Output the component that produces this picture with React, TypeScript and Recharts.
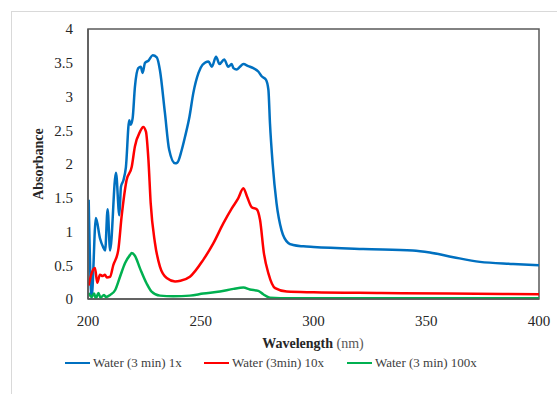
import {
  Legend,
  Line,
  LineChart,
  ReferenceArea,
  XAxis,
  YAxis,
} from "recharts";

// [wavelength nm, absorbance]
const water1x: [number, number][] = [
  [200.3, 1.47], [201.6, 0.02], [203.5, 1.2], [205.3, 0.9], [206.7, 0.77],
  [207.6, 0.72], [208.7, 1.33], [209.8, 0.72], [212.4, 1.87], [213.9, 1.24],
  [214.6, 1.66], [215.7, 1.76], [216.8, 1.95], [218.3, 2.65], [218.9, 2.58],
  [219.8, 2.68], [220.8, 3.14], [222.3, 3.42], [223.4, 3.44], [224.2, 3.35],
  [225.3, 3.5], [226.8, 3.53], [228.7, 3.61], [230.5, 3.58], [231.9, 3.39],
  [234.1, 2.76], [236, 2.21], [238.6, 2.01], [239.6, 2.02], [241.5, 2.2],
  [243, 2.4], [245, 2.7], [246.7, 3.05], [249, 3.35], [250.8, 3.47],
  [253.4, 3.52], [254.9, 3.44], [256.8, 3.59], [258.3, 3.48], [260.4, 3.55],
  [262.2, 3.44], [263.7, 3.48], [264.5, 3.42], [265.9, 3.4], [267.4, 3.44],
  [268.9, 3.48], [271.1, 3.45], [273.3, 3.42], [275.5, 3.37], [277, 3.3],
  [278.9, 3.25], [280, 3.1], [280.7, 2.6], [281.9, 2.0], [283.6, 1.42],
  [285.8, 1.02], [288.8, 0.83], [291, 0.8], [295.5, 0.78], [300, 0.77],
  [322, 0.74], [344, 0.72], [351.6, 0.69], [362, 0.62], [373.8, 0.55],
  [388.5, 0.52], [400, 0.5],
];

const water10x: [number, number][] = [
  [200.3, 0.2], [201.6, 0.38], [203.1, 0.46], [204.1, 0.24], [205.3, 0.36],
  [206.5, 0.34], [207.5, 0.36], [208.3, 0.32], [209.8, 0.33], [211.2, 0.5],
  [213.4, 0.72], [214.9, 1.22], [217.1, 1.76], [219.4, 1.96], [220.8, 2.26],
  [223.1, 2.48], [224.5, 2.55], [225.7, 2.48], [226.8, 2.06], [227.8, 1.42],
  [229.7, 0.83], [231.9, 0.48], [234.9, 0.31], [238.6, 0.26], [241, 0.27],
  [245.2, 0.33], [251.1, 0.58], [255.5, 0.82], [260, 1.12], [263.7, 1.34],
  [266.6, 1.49], [268.9, 1.64], [270.6, 1.51], [272.6, 1.36], [274.8, 1.33],
  [276.3, 1.17], [278, 0.68], [280, 0.38], [283, 0.16], [288.1, 0.11],
  [300, 0.1], [330, 0.09], [360, 0.08], [400, 0.07],
];

const water100x: [number, number][] = [
  [200.3, 0.09], [201.6, 0.03], [202.7, 0.08], [203.5, 0.01], [204.6, 0.09],
  [205.6, 0.02], [207.1, 0.06], [208, 0.03], [209.8, 0.06], [212, 0.13],
  [214.2, 0.33], [216.4, 0.53], [218.6, 0.65], [219.4, 0.68], [220.8, 0.64],
  [223.1, 0.45], [226, 0.23], [228.2, 0.11], [231.9, 0.05], [237.8, 0.04],
  [245.2, 0.05], [251.1, 0.08], [258.5, 0.11], [264.5, 0.15], [268.9, 0.17],
  [271.8, 0.14], [275.5, 0.12], [277.7, 0.07], [280.7, 0.02], [290, 0.01],
  [400, 0.01],
];

const xTicks = [200, 250, 300, 350, 400];
const yTicks = [0, 0.5, 1, 1.5, 2, 2.5, 3, 3.5, 4];

const series = [
  { name: "Water (3 min) 1x", color: "#0070C0", points: water1x },
  { name: "Water (3min) 10x", color: "#FF0000", points: water10x },
  { name: "Water (3 min) 100x", color: "#00B050", points: water100x },
];

const FONT = '"Liberation Serif", "Times New Roman", serif';
const legendLeft = [65, 204, 347];

function LegendBox() {
  return (
    <div style={{ position: "relative", height: 20, fontFamily: FONT, fontSize: 13, color: "#404040" }}>
      {series.map((s, i) => (
        <div
          key={s.name}
          style={{ position: "absolute", left: legendLeft[i], top: 0, display: "flex", alignItems: "center", whiteSpace: "nowrap" }}
        >
          <span style={{ display: "inline-block", width: 25, height: 2.5, background: s.color, marginRight: 3 }} />
          <span>{s.name}</span>
        </div>
      ))}
    </div>
  );
}

export default function App() {
  return (
    <div style={{ position: "absolute", left: 0, top: 0, width: 557, height: 394, overflow: "hidden", background: "#fff" }}>
      <div style={{ position: "absolute", left: 11, top: 11, width: 600, height: 420, border: "1px solid #d9d9d9" }} />
      <div style={{ position: "absolute", left: 0, top: 0 }}>
        <LineChart width={557} height={394} margin={{ top: 29, right: 18, left: 28, bottom: 45 }}>
          <XAxis
            type="number"
            dataKey="x"
            domain={[200, 400]}
            ticks={xTicks}
            allowDataOverflow
            axisLine={{ stroke: "#595959", strokeWidth: 1.5 }}
            tickLine={false}
            tickSize={0}
            tickMargin={16}
            height={30}
            tick={{ fontFamily: FONT, fontSize: 15, fill: "#262626" }}
            label={{
              content: () => (
                <text x={313} y={348} textAnchor="middle" fontFamily={FONT} fontSize={14} fill="#262626">
                  <tspan fontWeight="bold">Wavelength</tspan>
                  <tspan fill="#595959"> (nm)</tspan>
                </text>
              ),
            }}
          />
          <YAxis
            type="number"
            dataKey="y"
            domain={[0, 4]}
            ticks={yTicks}
            allowDataOverflow
            width={60}
            axisLine={{ stroke: "#595959", strokeWidth: 1.5 }}
            tickLine={false}
            tickSize={0}
            tickMargin={15}
            tick={{ fontFamily: FONT, fontSize: 15, fill: "#262626" }}
            label={{
              content: () => (
                <text
                  x={43}
                  y={164}
                  transform="rotate(-90 43 164)"
                  textAnchor="middle"
                  fontFamily={FONT}
                  fontSize={14}
                  fontWeight="bold"
                  fill="#262626"
                >
                  Absorbance
                </text>
              ),
            }}
          />
          <ReferenceArea
            x1={200}
            x2={400}
            y1={0}
            y2={4}
            fill="none"
            stroke="#595959"
            strokeWidth={1.5}
            ifOverflow="visible"
          />
          {series.map((s) => (
            <Line
              key={s.name}
              data={s.points.map(([x, y]) => ({ x, y }))}
              dataKey="y"
              name={s.name}
              type="monotone"
              stroke={s.color}
              strokeWidth={2.5}
              dot={false}
              isAnimationActive={false}
            />
          ))}
          <Legend
            content={() => <LegendBox />}
            wrapperStyle={{ position: "absolute", left: 0, top: 355, width: 557 }}
          />
        </LineChart>
      </div>
    </div>
  );
}
